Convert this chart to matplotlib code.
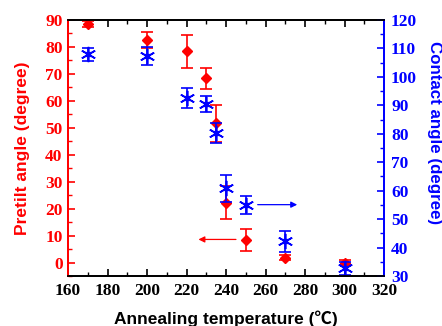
import matplotlib
matplotlib.use("Agg")
import matplotlib.pyplot as plt
from matplotlib.ticker import MultipleLocator

temps = [170, 200, 220, 230, 235, 240, 250, 270, 300]
pretilt = [88.5, 82.6, 78.3, 68.3, 51.7, 22.2, 8.3, 1.9, 0.0]
pretilt_err = [1.0, 3.0, 6.2, 4.0, 6.8, 6.2, 4.0, 1.0, 1.0]
contact = [108.0, 107.3, 92.5, 90.5, 80.4, 60.9, 55.1, 42.2, 32.8]
contact_err = [2.3, 3.2, 3.5, 2.9, 3.5, 4.7, 3.2, 3.7, 2.3]

RED = "#ff0000"
BLUE = "#0000ff"
plt.rcParams["font.family"] = ["Liberation Serif", "DejaVu Serif"]
plt.rcParams["font.weight"] = "bold"
labfam = ["Liberation Sans", "Noto Sans CJK SC", "DejaVu Sans"]
TICKSIZE = 12.5

fig = plt.figure(figsize=(4.42, 3.26), dpi=100)
ax = fig.add_axes([0.154, 0.153, 0.715, 0.786])
ax2 = ax.twinx()

ax.errorbar(temps, pretilt, yerr=pretilt_err, fmt="D", color=RED, ms=5.5,
            capsize=4, elinewidth=1.2, capthick=1.2, zorder=3)
ax2.errorbar(temps, contact, yerr=contact_err, fmt="none", ecolor=BLUE,
             capsize=4, elinewidth=1.2, capthick=1.2)
ax2.plot(temps, contact, linestyle="none", marker=(6, 2, 0), ms=11,
         mec=BLUE, mew=1.2, color=BLUE)
ax2.plot(temps, contact, linestyle="none", marker="s", ms=2.5, color=BLUE)

ax.set_xlim(160, 320)
ax.set_ylim(-5, 90)
ax2.set_ylim(30, 120)

ax.xaxis.set_major_locator(MultipleLocator(20))
ax.xaxis.set_minor_locator(MultipleLocator(10))
ax.yaxis.set_major_locator(MultipleLocator(10))
ax.yaxis.set_minor_locator(MultipleLocator(5))
ax2.yaxis.set_major_locator(MultipleLocator(10))
ax2.yaxis.set_minor_locator(MultipleLocator(5))

ax.tick_params(axis="x", which="both", direction="in", top=True, colors="black",
               labelsize=TICKSIZE)
ax.tick_params(axis="x", which="major", length=5, width=1.2, pad=5)
ax.tick_params(axis="x", which="minor", length=3, width=1.0)
ax.tick_params(axis="y", which="both", direction="in", colors=RED,
               labelsize=TICKSIZE)
ax.tick_params(axis="y", which="major", length=5, width=1.2, pad=4)
ax.tick_params(axis="y", which="minor", length=3, width=1.0)
ax2.tick_params(axis="y", which="both", direction="in", colors=BLUE,
                labelsize=TICKSIZE)
ax2.tick_params(axis="y", which="major", length=5, width=1.2, pad=5)
ax2.tick_params(axis="y", which="minor", length=3, width=1.0)

for a in (ax, ax2):
    a.spines["left"].set_color(RED)
    a.spines["right"].set_color(BLUE)
    for s in a.spines.values():
        s.set_linewidth(1.3)

ax.set_xlabel("Annealing temperature (\u2103)", family=labfam, weight="bold",
              fontsize=12.5, labelpad=8)
ax.set_ylabel("Pretilt angle (degree)", family=labfam, weight="bold",
              fontsize=12.5, color=RED, labelpad=11)
ax2.set_ylabel("Contact angle (degree)", family=labfam, weight="bold",
               fontsize=12.2, color=BLUE, rotation=270, labelpad=18)
ax2.yaxis.label.set_y(0.56)

ax.annotate("", xy=(226, 8.6), xytext=(245, 8.6),
            arrowprops=dict(arrowstyle="-|>", color=RED, lw=0.9,
                            mutation_scale=9, shrinkA=0, shrinkB=0))
ax2.annotate("", xy=(276, 55.1), xytext=(256, 55.1),
             arrowprops=dict(arrowstyle="-|>", color=BLUE, lw=0.9,
                             mutation_scale=9, shrinkA=0, shrinkB=0))

fig.savefig("out.png", dpi=100)
